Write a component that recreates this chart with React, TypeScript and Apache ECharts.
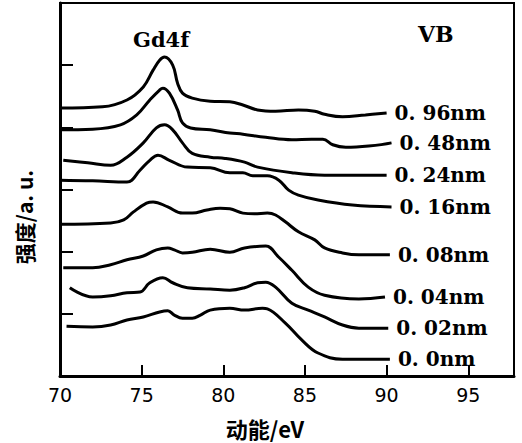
import React, { useEffect, useRef } from "react";
import * as echarts from "echarts";

// Thickness labels (right side)
const seriesNames = ["0. 96nm", "0. 48nm", "0. 24nm", "0. 16nm", "0. 08nm", "0. 04nm", "0. 02nm", "0. 0nm"];

// Kinetic energy (eV) / intensity (a.u., offset) pairs
const s096: [number, number][] = [
  [70.0, 4.31], [72.6, 4.33], [74.1, 4.44], [75.1, 4.65], [75.7, 4.92], [76.1, 5.08], [76.4, 5.13],
  [76.9, 5.0], [77.2, 4.71], [77.5, 4.55], [78.1, 4.47], [79.2, 4.42], [80.4, 4.41], [81.2, 4.36],
  [82.1, 4.28], [83.2, 4.26], [84.6, 4.28], [85.6, 4.26], [86.2, 4.21], [87.3, 4.17], [88.7, 4.2], [90.0, 4.23],
];
const s048: [number, number][] = [
  [70.0, 3.96], [72.0, 3.97], [73.7, 4.04], [74.7, 4.2], [75.5, 4.44], [76.1, 4.6], [76.3, 4.63],
  [76.7, 4.55], [77.2, 4.28], [77.5, 4.07], [78.0, 3.99], [79.2, 3.96], [80.4, 3.91], [81.2, 3.89],
  [82.6, 3.84], [84.2, 3.8], [85.4, 3.81], [86.1, 3.81], [86.7, 3.72], [87.5, 3.68], [88.9, 3.7], [90.3, 3.75],
];
const s024: [number, number][] = [
  [70.2, 3.47], [71.7, 3.43], [73.1, 3.39], [74.1, 3.52], [75.1, 3.75], [75.9, 3.99], [76.4, 4.04],
  [76.9, 3.96], [77.5, 3.75], [78.1, 3.58], [79.2, 3.52], [80.1, 3.5], [81.3, 3.44], [82.1, 3.36],
  [84.2, 3.27], [86.2, 3.23], [90.0, 3.23],
];
const s016: [number, number][] = [
  [70.0, 3.15], [72.0, 3.14], [74.1, 3.12], [74.9, 3.31], [75.5, 3.47], [76.0, 3.55], [76.7, 3.47],
  [77.8, 3.36], [79.2, 3.35], [80.4, 3.27], [81.2, 3.27], [81.8, 3.22], [82.7, 3.22], [83.4, 3.15],
  [84.0, 2.99], [84.6, 2.91], [85.8, 2.83], [87.9, 2.75], [90.3, 2.72],
];
const s008: [number, number][] = [
  [70.0, 2.44], [73.1, 2.46], [73.9, 2.51], [74.5, 2.64], [75.3, 2.78], [75.7, 2.8], [76.6, 2.72],
  [77.5, 2.62], [78.1, 2.62], [79.0, 2.67], [79.8, 2.7], [80.4, 2.69], [81.2, 2.62], [81.9, 2.61],
  [82.7, 2.62], [83.2, 2.59], [83.8, 2.48], [84.6, 2.32], [85.6, 2.19], [86.2, 2.06], [87.3, 1.98],
  [88.3, 1.95], [90.2, 1.95],
];
const s004: [number, number][] = [
  [70.2, 1.74], [72.0, 1.74], [73.1, 1.79], [74.1, 1.87], [75.1, 1.93], [75.9, 2.03], [76.6, 2.06],
  [77.0, 2.03], [77.5, 1.98], [78.1, 1.99], [79.2, 2.04], [80.4, 1.99], [81.3, 2.06], [82.6, 2.09],
  [83.4, 1.91], [84.2, 1.7], [85.2, 1.43], [86.2, 1.3], [88.3, 1.24], [89.9, 1.27],
];
const s002: [number, number][] = [
  [70.6, 1.42], [72.0, 1.27], [73.1, 1.29], [74.1, 1.34], [74.9, 1.35], [75.5, 1.5], [76.3, 1.58],
  [76.9, 1.5], [77.8, 1.42], [79.2, 1.4], [80.4, 1.38], [81.3, 1.42], [82.1, 1.5], [82.6, 1.51],
  [83.2, 1.43], [84.2, 1.17], [85.2, 1.06], [86.2, 0.95], [87.3, 0.82], [88.3, 0.77], [90.1, 0.77],
];
const s000: [number, number][] = [
  [70.4, 0.8], [72.0, 0.79], [73.1, 0.82], [74.1, 0.9], [75.1, 0.95], [76.1, 1.03], [76.6, 1.05],
  [77.0, 0.98], [77.5, 0.93], [78.1, 0.93], [78.6, 0.98], [79.2, 1.06], [80.4, 1.09], [81.3, 1.06],
  [82.4, 1.09], [82.7, 1.08], [83.8, 0.85], [84.8, 0.58], [85.8, 0.37], [87.3, 0.27], [90.2, 0.27],
];
const seriesData = [s096, s048, s024, s016, s008, s004, s002, s000];

const xTicks = [70, 75, 80, 85, 90, 95];

export default function App() {
  const ref = useRef<HTMLDivElement>(null);
  useEffect(() => {
    if (!ref.current) return;
    const chart = echarts.init(ref.current, undefined, { renderer: "svg" });
    const serif = "DejaVu Serif";
    chart.setOption({
      animation: false,
      backgroundColor: "#fff",
      grid: {
        left: 60, top: 3, right: 8, bottom: 67,
        show: true, borderColor: "#000", borderWidth: 2,
      },
      xAxis: {
        type: "value", min: 70, max: 97.8, interval: 5,
        axisLine: { show: true, lineStyle: { color: "#000", width: 3 } },
        axisTick: { show: true, inside: true, length: 11, lineStyle: { color: "#000", width: 2 } },
        splitLine: { show: false },
        axisLabel: {
          show: true, margin: 9, color: "#000", fontFamily: "DejaVu Sans", fontSize: 19,
          showMaxLabel: false,
          formatter: (v: number) => (xTicks.includes(v) ? String(v) : ""),
        },
      },
      yAxis: {
        type: "value", min: 0, max: 6, interval: 1,
        axisLine: { show: true, lineStyle: { color: "#000", width: 3 } },
        axisTick: { show: true, inside: true, length: 13, lineStyle: { color: "#000", width: 2 } },
        splitLine: { show: false },
        axisLabel: { show: false },
      },
      graphic: [
        { type: "text", left: 133, top: 29, style: { text: "Gd4f", font: `bold 21px "${serif}"`, fill: "#000" } },
        { type: "text", left: 418, top: 23, style: { text: "VB", font: `bold 22px "${serif}"`, fill: "#000" } },
        {
          type: "text", x: 265, y: 428,
          style: { text: "动能/eV", font: 'bold 22px "Noto Sans CJK SC"', fill: "#000", align: "center", verticalAlign: "middle" },
        },
        {
          type: "text", x: 24, y: 217, rotation: Math.PI / 2,
          style: { text: "强度/a. u.", font: 'bold 21px "Noto Sans CJK SC"', fill: "#000", align: "center", verticalAlign: "middle" },
        },
      ],
      series: seriesData.map((d, i) => ({
        type: "line",
        name: seriesNames[i],
        data: d,
        smooth: 0.4,
        showSymbol: false,
        symbol: "none",
        lineStyle: { color: "#000", width: 3 },
        endLabel: {
          show: true,
          formatter: seriesNames[i],
          distance: 8,
          color: "#000",
          fontFamily: serif,
          fontWeight: "bold",
          fontSize: 20,
        },
      })),
    });
    return () => chart.dispose();
  }, []);
  return <div ref={ref} style={{ width: 522, height: 443, position: "absolute", left: 0, top: 0 }} />;
}
